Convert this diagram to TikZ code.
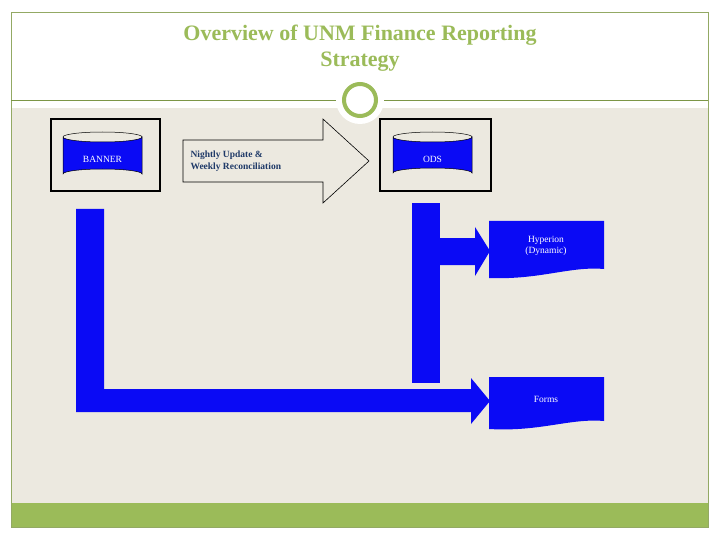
\documentclass[tikz,border=0pt]{standalone}
\usepackage{fontspec}
\setmainfont{Liberation Serif}
\definecolor{olive}{HTML}{9BBB59}
\definecolor{beige}{HTML}{ECE9E0}
\definecolor{bblue}{HTML}{0A0AF5}
\definecolor{navy}{HTML}{1F3A68}
\tikzset{
  frame/.style={draw=black,line width=2.2pt},
  blue/.style={fill=bblue,draw=none},
  wt/.style={text=white,font=\fontsize{9.5}{11}\selectfont,align=center},
}
\begin{document}
\begin{tikzpicture}[x=1pt,y=-1pt]
\useasboundingbox (0,0) rectangle (720,540);
\fill[white] (0,0) rectangle (720,540);
\fill[beige] (11,108) rectangle (708,503);
\fill[olive] (11,503) rectangle (708,527);
\draw[olive!70!gray,line width=0.5pt] (11,12) rectangle (708,527);
\draw[olive!80!black,line width=0.8pt] (11,100) -- (708,100);
\fill[white] (360,100) circle (24);
\draw[olive,line width=4pt,fill=white] (360,100) circle (16);
\node[text=olive,font=\bfseries\fontsize{22}{26}\selectfont,align=center] (title) at (360,48) {Overview of UNM Finance Reporting\\Strategy};
% BANNER
\node[frame,minimum width=109pt,minimum height=72pt] (bbox) at (105.5,155) {};
\fill[bblue,draw=black,line width=0.5pt] (63,137) -- (63,174) arc[start angle=180,end angle=360,x radius=39.5,y radius=5] -- (142,137) arc[start angle=0,end angle=180,x radius=39.5,y radius=5];
\draw[black,line width=0.5pt] (63,137) arc[start angle=180,end angle=360,x radius=39.5,y radius=5];
\node[wt] (banner) at (102.5,159) {BANNER};
% ODS
\node[frame,minimum width=111pt,minimum height=72pt] (obox) at (435.5,155) {};
\fill[bblue,draw=black,line width=0.5pt] (393,137) -- (393,173) arc[start angle=180,end angle=360,x radius=39.5,y radius=5] -- (472,137) arc[start angle=0,end angle=180,x radius=39.5,y radius=5];
\draw[black,line width=0.5pt] (393,137) arc[start angle=180,end angle=360,x radius=39.5,y radius=5];
\node[wt] (ods) at (432.5,159) {ODS};
% big arrow
\draw[fill=beige,line width=0.6pt] (183,140) -- (323,140) -- (323,119) -- (369,161) -- (323,203) -- (323,182) -- (183,182) -- cycle;
\node[text=navy,font=\bfseries\fontsize{9.5}{12}\selectfont,align=left,anchor=west] (nu) at (187,161) {Nightly Update \&\\Weekly Reconciliation};
% left L
\fill[bblue] (76,209) -- (104,209) -- (104,389) -- (471,389) -- (471,378) -- (490,401) -- (471,424) -- (471,412) -- (76,412) -- cycle;
% right bar
\fill[bblue] (412,203) rectangle (440,383);
\fill[bblue] (440,238) -- (475,238) -- (475,227) -- (490,251) -- (475,276) -- (475,265) -- (440,265) -- cycle;
% documents
\fill[bblue] (489,221) -- (604,221) -- (604,269) .. controls (570,266) and (540,280) .. (489,278) -- cycle;
\node[wt] (hyp) at (546,246) {Hyperion\\(Dynamic)};
\fill[bblue] (489,377) -- (604,377) -- (604,421) .. controls (570,418) and (540,432) .. (489,429) -- cycle;
\node[wt] (forms) at (546,399) {Forms};
\end{tikzpicture}
\end{document}
